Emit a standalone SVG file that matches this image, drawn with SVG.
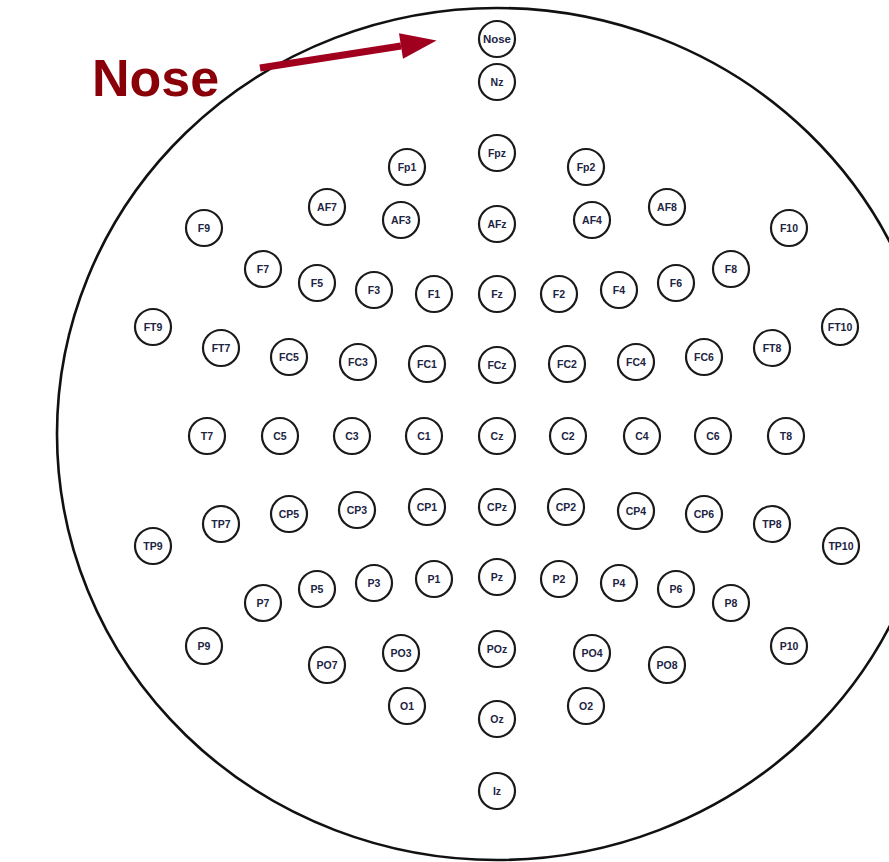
<svg xmlns="http://www.w3.org/2000/svg" width="889" height="862" viewBox="0 0 889 862">
<style>
.head{fill:none;stroke:#111;stroke-width:2.6}
.el circle{fill:#fff;stroke:#1a1a1a;stroke-width:2.2}
.el text{font-family:"Liberation Sans",Arial,sans-serif;font-size:10.5px;font-weight:bold;fill:#1c2442;text-anchor:middle}
.big{font-family:"Liberation Sans",Arial,sans-serif;font-size:52px;font-weight:bold;fill:#8a0008}
.arrow{fill:none;stroke:#a0001e;stroke-width:7}
</style>
<defs>
<marker id="ah" markerUnits="userSpaceOnUse" markerWidth="38" markerHeight="26" refX="0" refY="13" orient="auto" overflow="visible">
<path d="M0,0 L36,13 L0,26 z" fill="#a0001e"/>
</marker>
</defs>
<rect width="889" height="862" fill="#fff"/>
<ellipse id="headOutline" class="head" cx="497" cy="434" rx="440" ry="426"/>
<text id="noseLabel" class="big" x="92" y="96">Nose</text>
<g id="connectors">
<path class="arrow" d="M260,68 L401,46" marker-end="url(#ah)"/>
</g>
<g id="Nose" class="el"><circle cx="497" cy="39" r="18"/><text x="497" y="43" textLength="28" lengthAdjust="spacingAndGlyphs">Nose</text></g>
<g id="Nz" class="el"><circle cx="497" cy="82" r="18"/><text x="497" y="86">Nz</text></g>
<g id="Fpz" class="el"><circle cx="497" cy="153" r="18"/><text x="497" y="157">Fpz</text></g>
<g id="Fp1" class="el"><circle cx="407" cy="167" r="18"/><text x="407" y="171">Fp1</text></g>
<g id="Fp2" class="el"><circle cx="586" cy="167" r="18"/><text x="586" y="171">Fp2</text></g>
<g id="AF7" class="el"><circle cx="327" cy="207" r="18"/><text x="327" y="211">AF7</text></g>
<g id="AF3" class="el"><circle cx="401" cy="220" r="18"/><text x="401" y="224">AF3</text></g>
<g id="AFz" class="el"><circle cx="497" cy="224" r="18"/><text x="497" y="228">AFz</text></g>
<g id="AF4" class="el"><circle cx="592" cy="220" r="18"/><text x="592" y="224">AF4</text></g>
<g id="AF8" class="el"><circle cx="667" cy="207" r="18"/><text x="667" y="211">AF8</text></g>
<g id="F9" class="el"><circle cx="204" cy="228" r="18"/><text x="204" y="232">F9</text></g>
<g id="F10" class="el"><circle cx="789" cy="228" r="18"/><text x="789" y="232">F10</text></g>
<g id="F7" class="el"><circle cx="263" cy="269" r="18"/><text x="263" y="273">F7</text></g>
<g id="F5" class="el"><circle cx="317" cy="283" r="18"/><text x="317" y="287">F5</text></g>
<g id="F3" class="el"><circle cx="374" cy="290" r="18"/><text x="374" y="294">F3</text></g>
<g id="F1" class="el"><circle cx="434" cy="294" r="18"/><text x="434" y="298">F1</text></g>
<g id="Fz" class="el"><circle cx="497" cy="294" r="18"/><text x="497" y="298">Fz</text></g>
<g id="F2" class="el"><circle cx="559" cy="294" r="18"/><text x="559" y="298">F2</text></g>
<g id="F4" class="el"><circle cx="619" cy="290" r="18"/><text x="619" y="294">F4</text></g>
<g id="F6" class="el"><circle cx="676" cy="283" r="18"/><text x="676" y="287">F6</text></g>
<g id="F8" class="el"><circle cx="731" cy="269" r="18"/><text x="731" y="273">F8</text></g>
<g id="FT9" class="el"><circle cx="153" cy="327" r="18"/><text x="153" y="331">FT9</text></g>
<g id="FT10" class="el"><circle cx="840" cy="327" r="18"/><text x="840" y="331">FT10</text></g>
<g id="FT7" class="el"><circle cx="221" cy="348" r="18"/><text x="221" y="352">FT7</text></g>
<g id="FC5" class="el"><circle cx="289" cy="357" r="18"/><text x="289" y="361">FC5</text></g>
<g id="FC3" class="el"><circle cx="358" cy="362" r="18"/><text x="358" y="366">FC3</text></g>
<g id="FC1" class="el"><circle cx="427" cy="364" r="18"/><text x="427" y="368">FC1</text></g>
<g id="FCz" class="el"><circle cx="497" cy="365" r="18"/><text x="497" y="369">FCz</text></g>
<g id="FC2" class="el"><circle cx="567" cy="364" r="18"/><text x="567" y="368">FC2</text></g>
<g id="FC4" class="el"><circle cx="636" cy="362" r="18"/><text x="636" y="366">FC4</text></g>
<g id="FC6" class="el"><circle cx="704" cy="357" r="18"/><text x="704" y="361">FC6</text></g>
<g id="FT8" class="el"><circle cx="772" cy="348" r="18"/><text x="772" y="352">FT8</text></g>
<g id="T7" class="el"><circle cx="207" cy="436" r="18"/><text x="207" y="440">T7</text></g>
<g id="C5" class="el"><circle cx="280" cy="436" r="18"/><text x="280" y="440">C5</text></g>
<g id="C3" class="el"><circle cx="352" cy="436" r="18"/><text x="352" y="440">C3</text></g>
<g id="C1" class="el"><circle cx="424" cy="436" r="18"/><text x="424" y="440">C1</text></g>
<g id="Cz" class="el"><circle cx="497" cy="436" r="18"/><text x="497" y="440">Cz</text></g>
<g id="C2" class="el"><circle cx="568" cy="436" r="18"/><text x="568" y="440">C2</text></g>
<g id="C4" class="el"><circle cx="642" cy="436" r="18"/><text x="642" y="440">C4</text></g>
<g id="C6" class="el"><circle cx="713" cy="436" r="18"/><text x="713" y="440">C6</text></g>
<g id="T8" class="el"><circle cx="786" cy="436" r="18"/><text x="786" y="440">T8</text></g>
<g id="TP9" class="el"><circle cx="153" cy="546" r="18"/><text x="153" y="550">TP9</text></g>
<g id="TP7" class="el"><circle cx="221" cy="524" r="18"/><text x="221" y="528">TP7</text></g>
<g id="CP5" class="el"><circle cx="289" cy="514" r="18"/><text x="289" y="518">CP5</text></g>
<g id="CP3" class="el"><circle cx="357" cy="510" r="18"/><text x="357" y="514">CP3</text></g>
<g id="CP1" class="el"><circle cx="427" cy="507" r="18"/><text x="427" y="511">CP1</text></g>
<g id="CPz" class="el"><circle cx="497" cy="507" r="18"/><text x="497" y="511">CPz</text></g>
<g id="CP2" class="el"><circle cx="566" cy="507" r="18"/><text x="566" y="511">CP2</text></g>
<g id="CP4" class="el"><circle cx="636" cy="511" r="18"/><text x="636" y="515">CP4</text></g>
<g id="CP6" class="el"><circle cx="704" cy="514" r="18"/><text x="704" y="518">CP6</text></g>
<g id="TP8" class="el"><circle cx="772" cy="524" r="18"/><text x="772" y="528">TP8</text></g>
<g id="TP10" class="el"><circle cx="841" cy="546" r="18"/><text x="841" y="550">TP10</text></g>
<g id="P7" class="el"><circle cx="263" cy="603" r="18"/><text x="263" y="607">P7</text></g>
<g id="P5" class="el"><circle cx="317" cy="589" r="18"/><text x="317" y="593">P5</text></g>
<g id="P3" class="el"><circle cx="374" cy="583" r="18"/><text x="374" y="587">P3</text></g>
<g id="P1" class="el"><circle cx="434" cy="579" r="18"/><text x="434" y="583">P1</text></g>
<g id="Pz" class="el"><circle cx="497" cy="577" r="18"/><text x="497" y="581">Pz</text></g>
<g id="P2" class="el"><circle cx="559" cy="579" r="18"/><text x="559" y="583">P2</text></g>
<g id="P4" class="el"><circle cx="619" cy="583" r="18"/><text x="619" y="587">P4</text></g>
<g id="P6" class="el"><circle cx="676" cy="589" r="18"/><text x="676" y="593">P6</text></g>
<g id="P8" class="el"><circle cx="731" cy="603" r="18"/><text x="731" y="607">P8</text></g>
<g id="P9" class="el"><circle cx="204" cy="646" r="18"/><text x="204" y="650">P9</text></g>
<g id="P10" class="el"><circle cx="789" cy="646" r="18"/><text x="789" y="650">P10</text></g>
<g id="PO7" class="el"><circle cx="327" cy="665" r="18"/><text x="327" y="669">PO7</text></g>
<g id="PO3" class="el"><circle cx="401" cy="653" r="18"/><text x="401" y="657">PO3</text></g>
<g id="POz" class="el"><circle cx="497" cy="649" r="18"/><text x="497" y="653">POz</text></g>
<g id="PO4" class="el"><circle cx="592" cy="653" r="18"/><text x="592" y="657">PO4</text></g>
<g id="PO8" class="el"><circle cx="667" cy="665" r="18"/><text x="667" y="669">PO8</text></g>
<g id="O1" class="el"><circle cx="407" cy="706" r="18"/><text x="407" y="710">O1</text></g>
<g id="Oz" class="el"><circle cx="497" cy="719" r="18"/><text x="497" y="723">Oz</text></g>
<g id="O2" class="el"><circle cx="586" cy="706" r="18"/><text x="586" y="710">O2</text></g>
<g id="Iz" class="el"><circle cx="497" cy="791" r="18"/><text x="497" y="795">Iz</text></g>
</svg>
